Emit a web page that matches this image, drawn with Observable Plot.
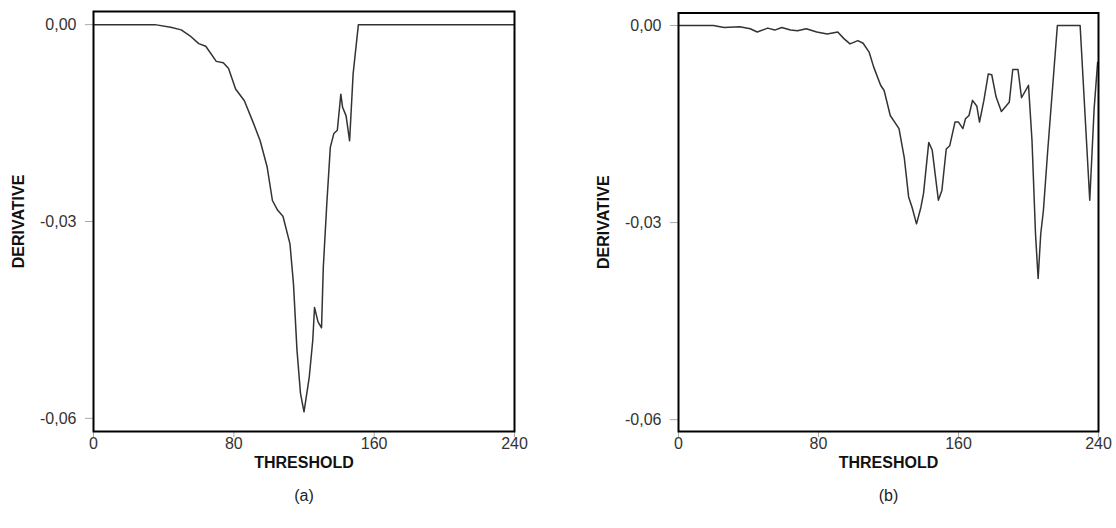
<!DOCTYPE html>
<html><head><meta charset="utf-8">
<script src="https://cdn.jsdelivr.net/npm/d3@7"></script>
<script src="https://cdn.jsdelivr.net/npm/@observablehq/plot@0.6"></script>
<style>
body{margin:0;background:#fff;font-family:"Liberation Sans",Arial,sans-serif}
#wrap{display:flex;width:1116px;height:528px;overflow:hidden}
#wrap svg{display:block}
</style></head><body><div id="wrap"></div>
<script>
// Panel (a)
const thresholdA = [0, 35, 44, 50, 55, 60, 64, 70, 74, 77, 81, 86, 91, 95, 99, 102, 105, 108, 112, 114, 116, 118, 120, 123, 125, 126, 128, 130, 131, 133, 135, 137, 139, 141, 142, 144, 146, 148, 151, 240];
const derivativeA = [0, 0, -0.0004, -0.0008, -0.0017, -0.0029, -0.0033, -0.0056, -0.0058, -0.0067, -0.0098, -0.0116, -0.0149, -0.0177, -0.0217, -0.0268, -0.0283, -0.0292, -0.0334, -0.0395, -0.0496, -0.0562, -0.0590, -0.0537, -0.0481, -0.0431, -0.0453, -0.0462, -0.0370, -0.0273, -0.0187, -0.0166, -0.0161, -0.0106, -0.0126, -0.0139, -0.0177, -0.0075, 0, 0];
// Panel (b)
const thresholdB = [0, 20, 26, 35, 41, 45, 51, 55, 59, 64, 68, 73, 79, 85, 91, 94.5, 98, 102.5, 105.5, 109, 111.5, 115.5, 117.5, 121, 126, 129, 131.5, 133.5, 136, 138.5, 140, 143, 145, 148.5, 150.5, 153, 155, 158, 160, 162.5, 164, 166, 168, 170.5, 172, 174.5, 177, 179, 181.5, 184.5, 189, 191, 194, 196, 200, 202, 204, 205.5, 207, 208.5, 211, 216.5, 229.5, 235, 237.5, 239.5];
const derivativeB = [0, 0, -0.0003, -0.0002, -0.0005, -0.001, -0.0004, -0.0007, -0.0003, -0.0007, -0.0008, -0.0005, -0.001, -0.0013, -0.001, -0.002, -0.0028, -0.0023, -0.0027, -0.0041, -0.0063, -0.0091, -0.0099, -0.0137, -0.0157, -0.0201, -0.0261, -0.0277, -0.0302, -0.0277, -0.0256, -0.0178, -0.019, -0.0266, -0.0251, -0.0188, -0.0183, -0.0147, -0.0147, -0.0157, -0.0142, -0.0137, -0.0114, -0.0123, -0.0147, -0.0114, -0.0074, -0.0075, -0.0109, -0.0131, -0.0117, -0.0067, -0.0067, -0.011, -0.0091, -0.0175, -0.0317, -0.0385, -0.0317, -0.0282, -0.019, 0, 0, -0.0266, -0.0127, -0.0056];

const xTicks = [0, 80, 160, 240];
const yTicks = [0, -0.03, -0.06];
const xLabel = "THRESHOLD";
const yLabel = "DERIVATIVE";
const captions = ["(a)", "(b)"];

const fmt = d => d.toFixed(2).replace(".", ",").replace("-0,00", "0,00");
const FONT = "Liberation Sans, Arial, sans-serif";

function panel(xs, ys, caption, m) {
  const data = xs.map((x, i) => ({x, y: ys[i]}));
  const H = 528;
  return Plot.plot({
    width: 558, height: H,
    marginLeft: m.left, marginRight: m.right, marginTop: m.top, marginBottom: H - m.bottom,
    style: {fontFamily: FONT, background: "white"},
    x: {domain: [0, 240]},
    y: {domain: m.ydomain},
    marks: [
      Plot.axisX({ticks: xTicks, tickSize: 6, tickPadding: 0, fontSize: 16, stroke: "#aaa", fill: "#333", label: null}),
      Plot.axisY({ticks: yTicks, tickSize: 8, tickPadding: 9, fontSize: 16, stroke: "#aaa", fill: "#333", tickFormat: fmt, label: null}),
      Plot.line(data, {x: "x", y: "y", stroke: "#333", strokeWidth: 1.5, curve: "linear"}),
      Plot.frame({stroke: "#000", strokeWidth: 2}),
      Plot.text([xLabel], {frameAnchor: "bottom", dy: 36, fontWeight: "bold", fontSize: 16, fill: "#111"}),
      Plot.text([caption], {frameAnchor: "bottom", dy: 69, fontSize: 16, fill: "#222"}),
      Plot.text([yLabel], {frameAnchor: "left", dx: -75, rotate: -90, textAnchor: "middle", fontWeight: "bold", fontSize: 16, fill: "#111"})
    ]
  });
}

const wrap = document.getElementById("wrap");
wrap.append(panel(thresholdA, derivativeA, captions[0], {left: 93, right: 44, top: 11, bottom: 431, ydomain: [-0.062, 0.002]}));
wrap.append(panel(thresholdB, derivativeB, captions[1], {left: 120, right: 18, top: 12.5, bottom: 431, ydomain: [-0.0618, 0.0019]}));
</script>
</body></html>
